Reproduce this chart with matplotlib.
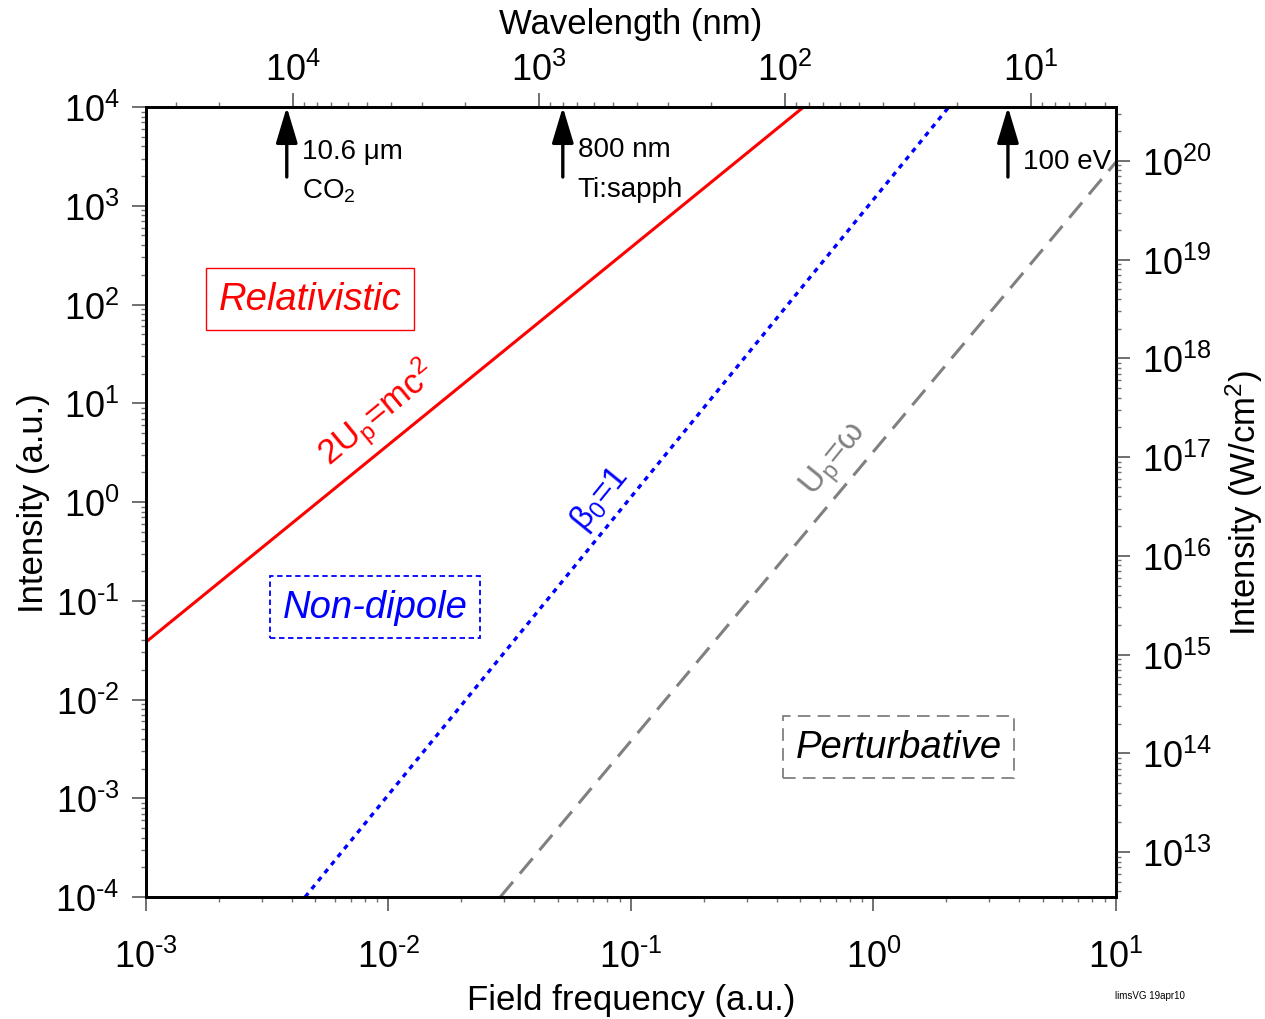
import matplotlib
matplotlib.use("Agg")
import numpy as np
import matplotlib.pyplot as plt
from matplotlib.ticker import LogLocator, NullFormatter, FuncFormatter

plt.rcParams['font.family'] = ['Liberation Sans', 'DejaVu Sans']
plt.rcParams['mathtext.fontset'] = 'custom'
plt.rcParams['mathtext.rm'] = 'Liberation Sans'
plt.rcParams['mathtext.it'] = 'Liberation Sans:italic'
plt.rcParams['mathtext.bf'] = 'Liberation Sans:bold'

# axis ranges
freq_range = [1e-3, 1e1]           # field frequency (a.u.)
int_range = [1e-4, 1e4]            # intensity (a.u.)
wl_range = [39600, 4.51]           # wavelength (nm), top axis as drawn
wcm2_range = [3.51e12, 3.51e20]    # intensity (W/cm^2), right axis

# boundary lines, end points
rel_freq = [1e-3, 0.515]
rel_int = [0.0382, 1e4]
nd_freq = [4.53e-3, 2.045]
nd_int = [1e-4, 1e4]
pert_freq = [0.0289, 10]
pert_int = [1e-4, 2772]

# laser markers on the wavelength axis
laser_wl = [10600, 800, 12.4]
laser_tail = [1955, 1955, 1955]
laser_name = ['10.6 μm', '800 nm', '100 eV']
laser_name_int = [3580, 3760, 2840]
laser_sub = ['CO$_2$', 'Ti:sapph', '']
laser_sub_int = [1450, 1480, 1480]

# region labels
region_name = ['Relativistic', 'Non-dipole', 'Perturbative']
region_freq = [4.75e-3, 8.81e-3, 1.27]
region_int = [113.8, 0.0865, 3.3e-3]

# line labels
line_label = ['2U$_\\mathrm{p}$=mc$^2$', 'β$_0$=1', 'U$_\\mathrm{p}$=ω']
line_label_freq = [9.0e-3, 0.0748, 0.692]
line_label_int = [7.8, 1.1, 2.72]
line_label_rot = [39.5, 51, 51]
line_label_size = [25, 24, 24]

red = '#ff0000'
blue = '#0000ff'
gray = '#808080'


def pow10(v, pos):
    e = int(np.round(np.log10(v)))
    if e < 0:
        return '$10^{\\text{-}%d}$' % (-e)
    return '$10^{%d}$' % e


fig = plt.figure(figsize=(12.65, 10.2), dpi=100)
ax = fig.add_axes([0.1154, 0.1196, 0.7668, 0.7745])

ax.plot(rel_freq, rel_int, color=red, lw=2.2, solid_capstyle='butt')
ax.plot(nd_freq, nd_int, color=blue, lw=2.4, linestyle=(0, (1.5, 1.6)))
ax.plot(pert_freq, pert_int, color=gray, lw=2.2, linestyle=(0, (6.5, 3.5)))

ax.set_xscale('log')
ax.set_yscale('log')
ax.set_xlim(freq_range)
ax.set_ylim(int_range)

label_colors = [red, blue, gray]
for txt, f, i, r, c, s in zip(line_label, line_label_freq, line_label_int,
                              line_label_rot, label_colors, line_label_size):
    ax.text(f, i, txt, color=c, fontsize=s, rotation=r,
            ha='center', va='center', rotation_mode='anchor')

box_styles = [
    dict(text=red, ec=red, ls='-', lw=1.0),
    dict(text=blue, ec=blue, ls=(0, (3, 2)), lw=1.3),
    dict(text='black', ec=gray, ls=(0, (7, 4)), lw=1.3),
]
for name, f, i, st in zip(region_name, region_freq, region_int, box_styles):
    ax.text(f, i, name, color=st['text'], fontsize=27.5, style='italic',
            ha='center', va='center',
            bbox=dict(boxstyle='square,pad=0.33', fc='none', ec=st['ec'],
                      ls=st['ls'], lw=st['lw']))

ax.set_xlabel('Field frequency (a.u.)', fontsize=25, labelpad=6)
ax.set_ylabel('Intensity (a.u.)', fontsize=25, labelpad=4)

# top: wavelength
ax_top = ax.twiny()
ax_top.set_xscale('log')
ax_top.set_xlim(wl_range)
ax_top.set_xlabel('Wavelength (nm)', fontsize=25, labelpad=14)

for wl, tail, name, ni, sub, si in zip(laser_wl, laser_tail, laser_name,
                                       laser_name_int, laser_sub, laser_sub_int):
    ax_top.annotate('', xy=(wl, int_range[1]), xytext=(wl, tail),
                    arrowprops=dict(arrowstyle='-|>,head_length=1.1,head_width=0.33',
                                    color='black', lw=2.4, mutation_scale=20,
                                    shrinkA=0, shrinkB=0))
    ax_top.annotate(name, xy=(wl, ni), xytext=(15, 0), textcoords='offset pixels',
                    fontsize=20, va='center', ha='left')
    if sub:
        ax_top.annotate(sub, xy=(wl, si), xytext=(15, 0), textcoords='offset pixels',
                        fontsize=20, va='center', ha='left')

# right: W/cm^2
ax_r = ax.twinx()
ax_r.set_yscale('log')
ax_r.set_ylim(wcm2_range)
ax_r.set_ylabel('Intensity (W/cm$^2$)', fontsize=25, labelpad=8)

for axis in [ax.xaxis, ax.yaxis, ax_top.xaxis, ax_r.yaxis]:
    axis.set_major_locator(LogLocator(base=10, numticks=100))
    axis.set_major_formatter(FuncFormatter(pow10))
    axis.set_minor_locator(LogLocator(base=10, subs=range(2, 10), numticks=100))
    axis.set_minor_formatter(NullFormatter())

tick_gray = '#707070'
for a in (ax, ax_top, ax_r):
    a.tick_params(which='major', direction='out', length=10, width=1.4,
                  color=tick_gray, labelsize=26)
    a.tick_params(which='minor', direction='out', length=3.5, width=1.0,
                  color=tick_gray)
ax.tick_params(axis='x', which='major', pad=20)
ax.tick_params(axis='y', which='major', pad=9)
ax_top.tick_params(axis='x', which='major', pad=3.5)
ax_r.tick_params(axis='y', which='major', pad=9)

for a in (ax, ax_top, ax_r):
    for s in a.spines.values():
        s.set_linewidth(1.8)

fig.text(0.909, 0.024, 'limsVG 19apr10', fontsize=7, ha='center', va='center')

fig.savefig('out.png', dpi=100)
